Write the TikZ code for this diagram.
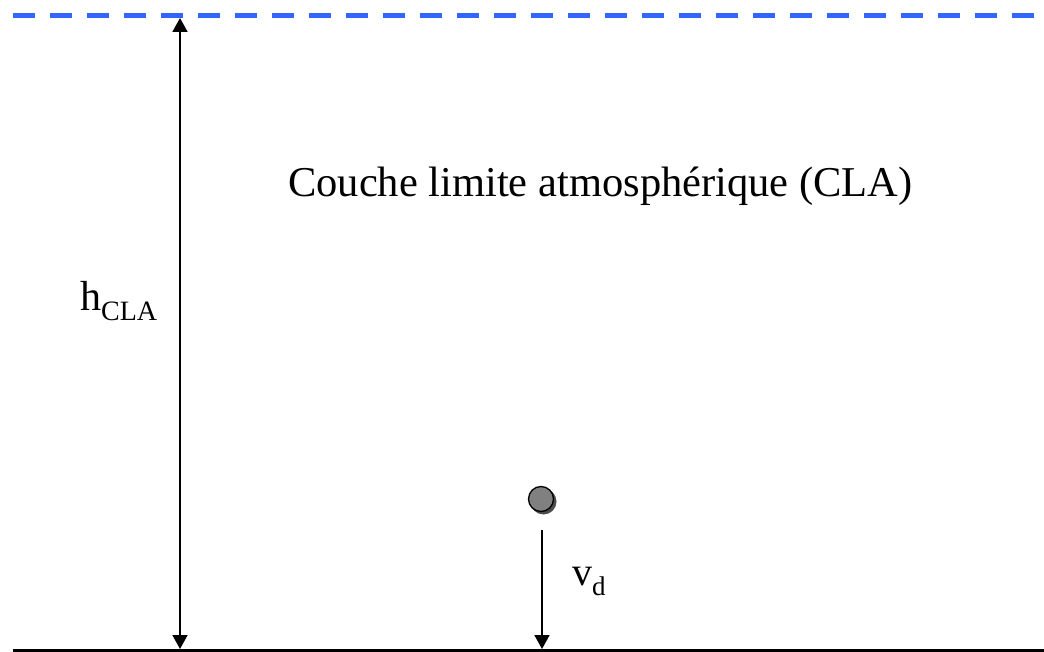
\documentclass[tikz,border=0pt]{standalone}
\usepackage{fontspec}
\setmainfont{Liberation Serif}
\usetikzlibrary{arrows.meta}
\definecolor{dashblue}{HTML}{3366FF}
\definecolor{ballgray}{HTML}{808080}
\tikzset{
  dim/.style={line width=1.8pt,{Triangle[length=14pt,width=15pt]}-{Triangle[length=14pt,width=15pt]}},
  fall/.style={line width=1.8pt,-{Triangle[length=14pt,width=15pt]}},
  lbl/.style={inner sep=0pt,anchor=base west},
}
\begin{document}
\begin{tikzpicture}[x=1pt,y=-1pt]
\useasboundingbox (0,0) rectangle (1044,652);
% top of boundary layer (dashed)
\draw[dashblue,line width=5pt,dash pattern=on 22pt off 15pt] (13,16) -- (1044,16);
% ground
\draw[line width=3pt] (13,650.5) -- (1044,650.5);
\coordinate (top) at (180,18);
\coordinate (gl) at (180,649);
\draw[dim] (gl) -- (top);
% particle
\fill[black!70] (543.5,501.5) circle (13);
\node[circle,draw=black,line width=1.3pt,fill=ballgray,minimum size=25pt,inner sep=0pt] (ball) at (541,499) {};
\coordinate (fs) at (542,530);
\coordinate (gr) at (542,649);
\draw[fall] (fs) -- (gr);
% labels
\node[lbl,font=\fontsize{42.5}{42.5}\selectfont] (cla) at (288,197) {Couche limite atmosphérique (CLA)};
\node[lbl,font=\fontsize{42}{42}\selectfont] (h) at (80,310) {h\raisebox{-10pt}{\fontsize{28}{28}\selectfont CLA}};
\node[lbl,font=\fontsize{40}{40}\selectfont] (v) at (572,585) {v\raisebox{-10pt}{\fontsize{27}{27}\selectfont d}};
\end{tikzpicture}
\end{document}
